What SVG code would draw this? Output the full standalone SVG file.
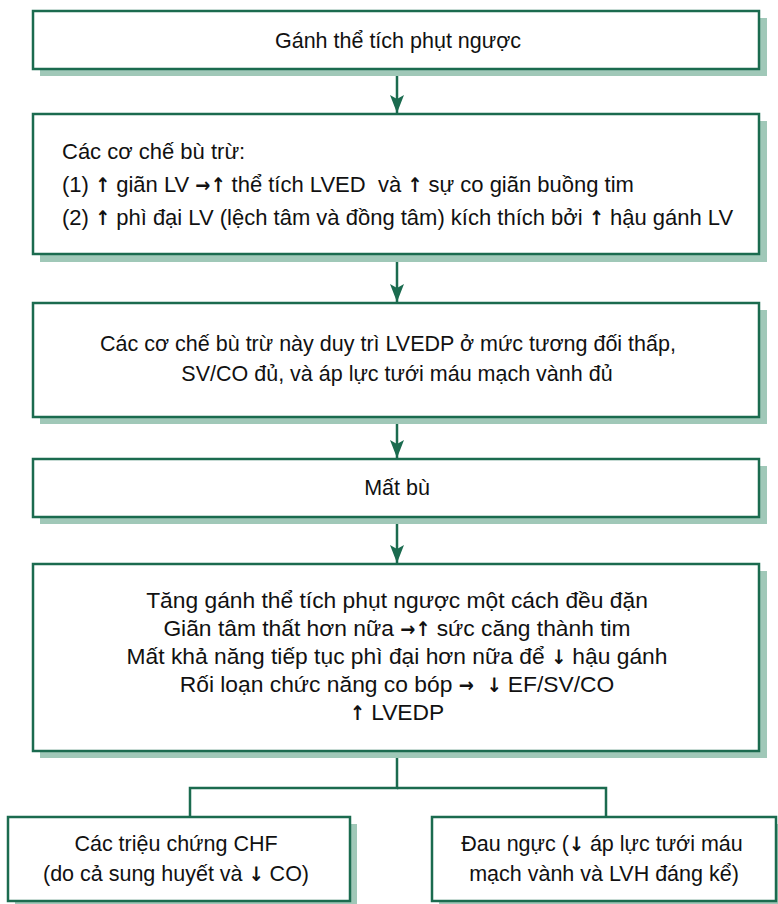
<svg xmlns="http://www.w3.org/2000/svg" width="778" height="904" viewBox="0 0 778 904">
  <style>
    .box { fill: #ffffff; stroke: #1b6b4f; stroke-width: 2.5; }
    .shadow { fill: #a0c8b8; stroke: none; }
    .t { font-family: "Liberation Sans", Arial, sans-serif; font-size: 21.5px; fill: #111111; }
    .m { font-size: 22px; }
    .l { font-size: 22.8px; }
    .c { text-anchor: middle; }
    .ar { font-family: "DejaVu Sans Condensed", "DejaVu Sans", sans-serif; font-weight: bold; font-size: 20px; fill: #111111; }
    .link { fill: none; stroke: #1b6b4f; stroke-width: 2.5; }
  </style>
  <defs>
    <marker id="headDown" viewBox="0 0 18 14" markerWidth="18" markerHeight="14" refX="18" refY="7" orient="auto" markerUnits="userSpaceOnUse">
      <path d="M0,0 L4,7 L0,14 L18,7 Z" fill="#1b6b4f"/>
    </marker>
  </defs>

  <rect width="778" height="904" fill="#ffffff"/>

  <!-- connectors -->
  <g id="connectors">
    <line class="link" x1="397" y1="69" x2="397" y2="113" marker-end="url(#headDown)"/>
    <line class="link" x1="397" y1="254" x2="397" y2="302" marker-end="url(#headDown)"/>
    <line class="link" x1="397" y1="417" x2="397" y2="458" marker-end="url(#headDown)"/>
    <line class="link" x1="397" y1="517" x2="397" y2="563" marker-end="url(#headDown)"/>
    <polyline class="link" points="397,751 397,788 190,788 190,817"/>
    <polyline class="link" points="397,788 606,788 606,817"/>
  </g>

  <!-- Gánh thể tích phụt ngược -->
  <g id="n1">
    <rect class="shadow" x="40" y="18" width="727" height="58"/>
    <rect class="box" x="33" y="11" width="726" height="58"/>
    <text class="t c" x="398" y="48">Gánh thể tích phụt ngược</text>
  </g>

  <!-- compensation mechanisms -->
  <g id="n2">
    <rect class="shadow" x="40" y="121" width="727" height="141"/>
    <rect class="box" x="33" y="114" width="726" height="140"/>
    <text class="t m" x="62" y="159">Các cơ chế bù trừ:</text>
    <text class="t m" x="62" y="192" style="white-space:pre">(1) <tspan class="ar">↑</tspan> giãn LV <tspan class="ar">→↑</tspan> thể tích LVED  và <tspan class="ar">↑</tspan> sự co giãn buồng tim</text>
    <text class="t m" x="62" y="225">(2) <tspan class="ar">↑</tspan> phì đại LV (lệch tâm và đồng tâm) kích thích bởi <tspan class="ar">↑</tspan> hậu gánh LV</text>
  </g>

  <g id="n3">
    <rect class="shadow" x="40" y="310" width="727" height="114"/>
    <rect class="box" x="33" y="303" width="726" height="114"/>
    <text class="t c" x="388" y="351">Các cơ chế bù trừ này duy trì LVEDP ở mức tương đối thấp,</text>
    <text class="t c" x="397" y="381">SV/CO đủ, và áp lực tưới máu mạch vành đủ</text>
  </g>

  <g id="n4">
    <rect class="shadow" x="40" y="466" width="727" height="58"/>
    <rect class="box" x="33" y="459" width="726" height="58"/>
    <text class="t c" x="397" y="495">Mất bù</text>
  </g>

  <g id="n5">
    <rect class="shadow" x="40" y="571" width="727" height="187"/>
    <rect class="box" x="33" y="564" width="726" height="187"/>
    <text class="t l c" x="397" y="608">Tăng gánh thể tích phụt ngược một cách đều đặn</text>
    <text class="t l c" x="397" y="636">Giãn tâm thất hơn nữa <tspan class="ar">→↑</tspan> sức căng thành tim</text>
    <text class="t l c" x="397" y="664">Mất khả năng tiếp tục phì đại hơn nữa để <tspan class="ar">↓</tspan> hậu gánh</text>
    <text class="t l c" x="397" y="692" style="white-space:pre">Rối loạn chức năng co bóp <tspan class="ar">→</tspan>  <tspan class="ar">↓</tspan> EF/SV/CO</text>
    <text class="t l c" x="397" y="720"><tspan class="ar">↑</tspan> LVEDP</text>
  </g>

  <g id="n6">
    <rect class="shadow" x="15" y="824" width="342" height="84"/>
    <rect class="box" x="8" y="817" width="342" height="84"/>
    <text class="t c" x="176" y="851">Các triệu chứng CHF</text>
    <text class="t c" x="176" y="881">(do cả sung huyết và <tspan class="ar">↓</tspan> CO)</text>
  </g>

  <g id="n7">
    <rect class="shadow" x="439" y="824" width="344" height="84"/>
    <rect class="box" x="432" y="817" width="344" height="84"/>
    <text class="t c" x="602" y="851">Đau ngực (<tspan class="ar">↓</tspan> áp lực tưới máu</text>
    <text class="t c" x="604" y="881">mạch vành và LVH đáng kể)</text>
  </g>
</svg>
